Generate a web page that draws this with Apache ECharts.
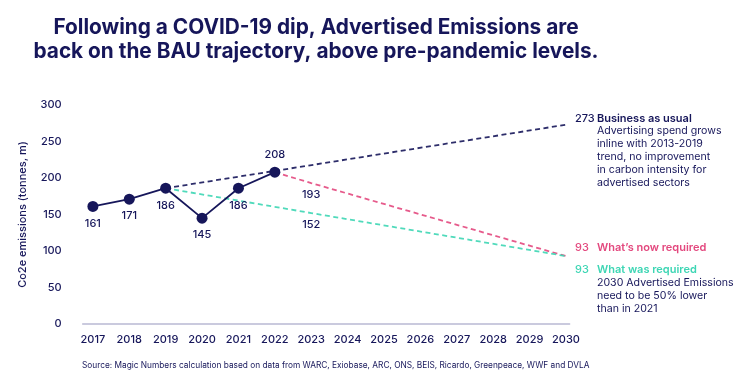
<!DOCTYPE html>
<html>
<head>
<meta charset="utf-8">
<script src="https://cdn.jsdelivr.net/npm/echarts@6/dist/echarts.min.js"></script>
<style>
html,body{margin:0;padding:0;background:#fff;}
#c{width:736px;height:386px;}
</style>
</head>
<body>
<div id="c"></div>
<script>
const titleText = 'Following a COVID-19 dip, Advertised Emissions are\nback on the BAU trajectory, above pre-pandemic levels.';
const yAxisName = 'Co2e emissions (tonnes, m)';
const sourceText = 'Source: Magic Numbers calculation based on data from WARC, Exiobase, ARC, ONS, BEIS, Ricardo, Greenpeace, WWF and DVLA';
const yearTicks = [2017,2018,2019,2020,2021,2022,2023,2024,2025,2026,2027,2028,2029,2030];
const actualYears = [2017,2018,2019,2020,2021,2022];
const actualValues = [161,171,186,145,186,208];
const actualLabelPos = ['bottom','bottom','bottom','bottom','bottom','top'];
const bauYears = [2019,2030];
const bauValues = [186,273];
const nowYears = [2022,2023,2030];
const nowValues = [208,193,93];
const wasYears = [2019,2023,2030];
const wasValues = [186,152,93];
const bauTitle = 'Business as usual';
const bauDesc = ['Advertising spend grows','inline with 2013-2019','trend, no improvement','in carbon intensity for','advertised sectors'];
const nowTitle = 'What\u2019s now required';
const wasTitle = 'What was required';
const wasDesc = ['2030 Advertised Emissions','need to be 50% lower','than in 2021'];

const NAVY = '#16165a';
const PINK = '#e3487e';
const TEAL = '#3dd6b4';
const FONT = 'Inter';

function pairs(xs, ys){ return xs.map((x,i)=>[x, ys[i]]); }

function endRich(color){
  return {
    v: {color: color, fontFamily: FONT, fontSize: 11, fontWeight: 500, width: 22, lineHeight: 13},
    t: {color: color, fontFamily: FONT, fontSize: 11, fontWeight: 600, lineHeight: 13},
    sp: {width: 22, lineHeight: 13},
    d: {color: NAVY, fontFamily: FONT, fontSize: 10.6, fontWeight: 400, lineHeight: 13}
  };
}
function endText(val, title, desc){
  const lines = ['{v|' + val + '}{t|' + title + '}'];
  desc.forEach(d => lines.push('{sp|}{d|' + d + '}'));
  return lines.join('\n');
}

const chart = echarts.init(document.getElementById('c'), null, {renderer: 'canvas'});

const actualData = pairs(actualYears, actualValues).map((p,i)=>({
  value: p,
  label: {position: actualLabelPos[i]}
}));

function midData(xs, ys){
  return pairs(xs, ys).map((p,i)=>{
    const mid = i > 0 && i < xs.length - 1;
    return {
      value: p,
      symbol: 'circle',
      symbolSize: 1,
      itemStyle: {color: 'rgba(0,0,0,0)'},
      label: {show: mid, position: 'bottom', distance: 6, color: NAVY, fontFamily: FONT, fontSize: 11, fontWeight: 500,
              formatter: (o)=> String(o.value[1])}
    };
  });
}

chart.setOption({
  animation: false,
  backgroundColor: '#ffffff',
  title: {
    text: titleText,
    left: 311,
    top: 11,
    textAlign: 'center',
    textStyle: {color: NAVY, fontFamily: FONT, fontSize: 20.8, fontWeight: 700, lineHeight: 24}
  },
  graphic: [{
    type: 'text',
    left: 82,
    top: 362,
    style: {text: sourceText, fill: NAVY, font: '400 8.3px ' + FONT}
  }],
  grid: {left: 82.7, right: 166.4, top: 105, bottom: 62, containLabel: false},
  xAxis: {
    type: 'value',
    min: 2016.72,
    max: 2030.1,
    splitLine: {show: false},
    axisTick: {show: false},
    axisLine: {show: true, lineStyle: {color: '#b9b9d3', width: 1.5}},
    axisLabel: {
      customValues: yearTicks,
      margin: 10,
      color: NAVY, fontFamily: FONT, fontSize: 11, fontWeight: 500,
      formatter: (v)=> String(v)
    }
  },
  yAxis: {
    type: 'value',
    min: 0, max: 300, interval: 50,
    name: yAxisName,
    nameLocation: 'middle',
    nameGap: 55,
    nameTextStyle: {color: NAVY, fontFamily: FONT, fontSize: 11, fontWeight: 500},
    splitLine: {show: false},
    axisLine: {show: false},
    axisTick: {show: false},
    axisLabel: {margin: 21, color: NAVY, fontFamily: FONT, fontSize: 11, fontWeight: 500}
  },
  series: [
    {
      name: 'BAU',
      type: 'line',
      data: pairs(bauYears, bauValues),
      showSymbol: false,
      symbol: 'none',
      lineStyle: {color: NAVY, width: 1.8, type: [5, 3.5], opacity: 0.9},
      z: 2,
      endLabel: {
        show: true,
        distance: 9,
        align: 'left',
        verticalAlign: 'top',
        offset: [0, -13],
        formatter: () => endText(bauValues[bauValues.length-1], bauTitle, bauDesc),
        rich: endRich(NAVY)
      }
    },
    {
      name: 'Now required',
      type: 'line',
      data: midData(nowYears, nowValues),
      lineStyle: {color: PINK, width: 1.8, type: [5, 3.5], opacity: 0.9},
      z: 2,
      endLabel: {
        show: true,
        distance: 9,
        align: 'left',
        verticalAlign: 'top',
        offset: [0, -15],
        formatter: () => endText(nowValues[nowValues.length-1], nowTitle, []),
        rich: endRich(PINK)
      }
    },
    {
      name: 'Was required',
      type: 'line',
      data: midData(wasYears, wasValues),
      lineStyle: {color: TEAL, width: 1.8, type: [5, 3.5], opacity: 0.9},
      z: 2,
      endLabel: {
        show: true,
        distance: 9,
        align: 'left',
        verticalAlign: 'top',
        offset: [0, 7],
        formatter: () => endText(wasValues[wasValues.length-1], wasTitle, wasDesc),
        rich: endRich(TEAL)
      }
    },
    {
      name: 'Actual',
      type: 'line',
      data: actualData,
      symbol: 'circle',
      symbolSize: 11,
      itemStyle: {color: NAVY},
      lineStyle: {color: NAVY, width: 1.8},
      z: 5,
      label: {show: true, distance: 6, color: NAVY, fontFamily: FONT, fontSize: 11, fontWeight: 500,
              formatter: (o)=> String(o.value[1])}
    }
  ]
});
</script>
</body>
</html>
